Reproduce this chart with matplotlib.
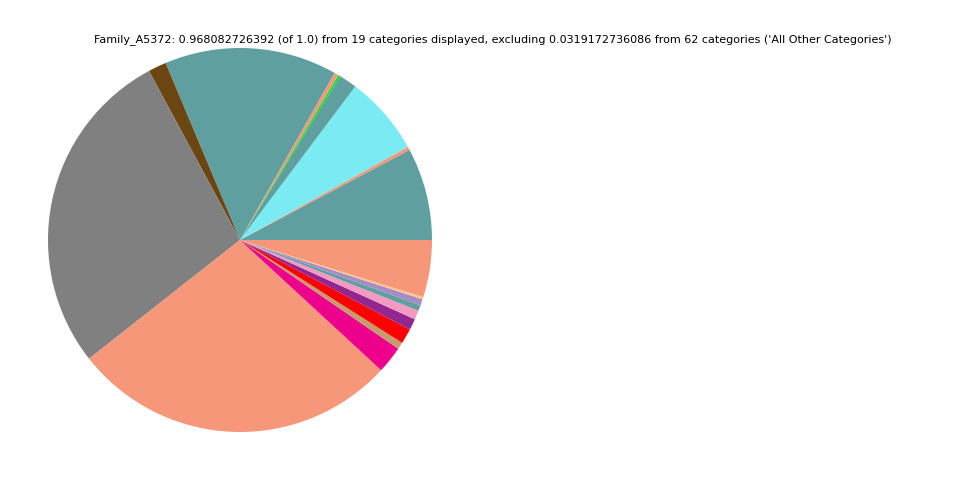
import matplotlib
matplotlib.use("Agg")
import matplotlib.pyplot as plt

title = ("Family_A5372: 0.968082726392 (of 1.0) from 19 categories displayed, "
         "excluding 0.0319172736086 from 62 categories ('All Other Categories')")

# fractions of the family, counterclockwise from 3 o'clock
values = [0.0753, 0.0027, 0.0648, 0.0145, 0.0019, 0.0035, 0.1406, 0.0148,
          0.2686, 0.2665, 0.0221, 0.0056, 0.0124, 0.0091, 0.0075, 0.0046,
          0.0051, 0.0019, 0.0465]
colors = ["#5f9f9f", "#f7977a", "#7aebf3", "#5f9f9f", "#00e62e", "#f7977a",
          "#5f9f9f", "#6b4512", "#808080", "#f7977a", "#ec008c", "#c69c6d",
          "#ff0000", "#92278f", "#f49ac2", "#5f9f9f", "#a68cc7", "#fdc689",
          "#f7977a"]

fig = plt.figure(figsize=(9.6, 4.8), dpi=100)
ax = fig.add_axes([0.0, 0.1, 0.5, 0.8])
ax.pie(values, colors=colors, startangle=0, counterclock=True,
       wedgeprops={"linewidth": 0})
ax.set_aspect("equal")
ax.set_xlim(-1, 1)
ax.set_ylim(-1, 1)
fig.text(493 / 960, 1 - 40 / 480, title, ha="center", va="center", fontsize=8)
fig.savefig("out.png", dpi=100)
